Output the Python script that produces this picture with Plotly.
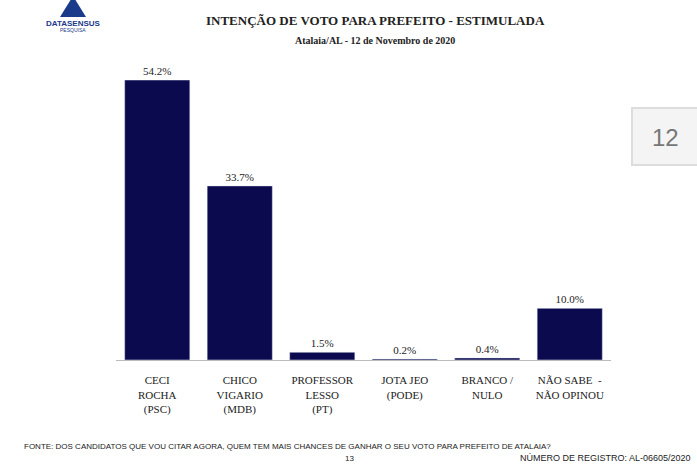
import plotly.graph_objects as go

categories = ["CECI<br>ROCHA<br>(PSC)", "CHICO<br>VIGARIO<br>(MDB)", "PROFESSOR<br>LESSO<br>(PT)",
              "JOTA JEO<br>(PODE)", "BRANCO /<br>NULO", "NÃO SABE  -<br>NÃO OPINOU"]
values = [54.2, 33.7, 1.5, 0.2, 0.4, 10.0]
labels = ["54.2%", "33.7%", "1.5%", "0.2%", "0.4%", "10.0%"]

W, H = 697, 465
L, R, T, B = 116, 86, 80, 105
PW, PH = W - L - R, H - T - B

def px(x): return (x - L) / PW
def py(y): return (H - y - B) / PH  # y from top

serif = "Liberation Serif"
fig = go.Figure(go.Bar(
    x=list(range(len(categories))), y=values, text=labels, textposition="outside",
    cliponaxis=False, marker_color="#0c0a4e", width=0.79,
    textfont=dict(family=serif, size=11, color="#222")))

def ann(text, x, y, size, family=serif, color="#222", xanchor="center"):
    return dict(text=text, x=px(x), y=py(y), xref="paper", yref="paper", showarrow=False,
                xanchor=xanchor, yanchor="middle", font=dict(family=family, size=size, color=color))

fig.update_layout(
    width=W, height=H, plot_bgcolor="white", paper_bgcolor="white",
    margin=dict(l=L, r=R, t=T, b=B), showlegend=False,
    xaxis=dict(tickvals=list(range(len(categories))), ticktext=categories, showgrid=False,
               tickfont=dict(family=serif, size=11, color="#222"), range=[-0.5, 5.5],
               showline=True, linecolor="#bbb", ticks="", ticklabelstandoff=10),
    yaxis=dict(visible=False, range=[0, 54.2]),
    annotations=[
        ann("<b>INTENÇÃO DE VOTO PARA PREFEITO - ESTIMULADA</b>", 375, 20, 13),
        ann("<b>Atalaia/AL - 12 de Novembro de 2020</b>", 375, 40, 10),
        ann("FONTE: DOS CANDIDATOS QUE VOU CITAR AGORA, QUEM TEM MAIS CHANCES DE GANHAR O SEU VOTO PARA PREFEITO DE ATALAIA?",
            22, 446, 8, "Liberation Sans", xanchor="left"),
        ann("13", 349, 458, 8, "Liberation Sans"),
        ann("NÚMERO DE REGISTRO: AL-06605/2020", 693, 458, 9, "Liberation Sans", xanchor="right"),
        ann("12", 665, 137, 24, "Liberation Sans", "#777"),
        ann("<b>DATASENSUS</b>", 73, 23, 8, "Liberation Sans", "#1a3a8a"),
        ann("PESQUISA", 73, 30, 5, "Liberation Sans", "#1a3a8a"),
    ],
    shapes=[
        dict(type="rect", xref="paper", yref="paper", x0=px(632), x1=px(712), y0=py(165), y1=py(108),
             line=dict(color="#ddd"), fillcolor="#f4f4f4", layer="below"),
        dict(type="path", xref="paper", yref="paper",
             path=f"M {px(60)} {py(17)} L {px(73)} {py(-4)} L {px(86)} {py(17)} Z",
             fillcolor="#1a3a8a", line=dict(width=0)),
    ],
)
fig.write_html("out.html", config={"displayModeBar": False},
               post_script="document.body.style.margin='0';document.body.style.overflow='hidden';")
